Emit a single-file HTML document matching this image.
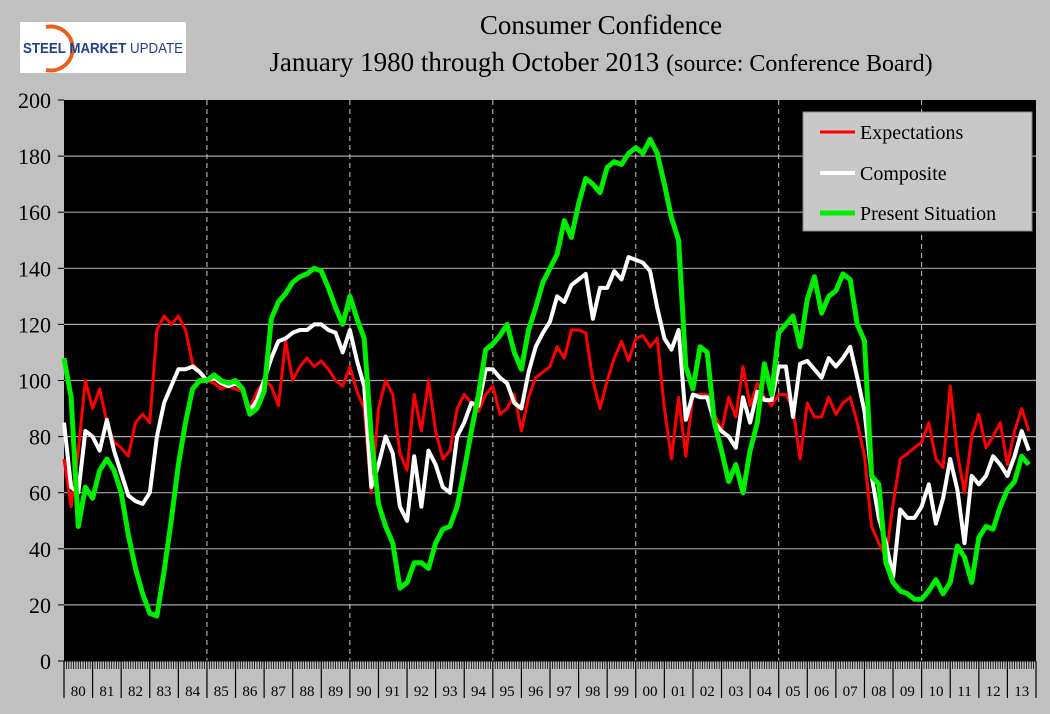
<!DOCTYPE html>
<html><head><meta charset="utf-8">
<style>
body{margin:0;background:#c0c0c0;}
#wrap{position:relative;width:1050px;height:714px;background:#c0c0c0;overflow:hidden;font-family:"Liberation Serif",serif;}
svg text{font-family:"Liberation Serif",serif;}
</style></head>
<body>
<div id="wrap">
<svg id="chart" width="1050" height="714" xmlns="http://www.w3.org/2000/svg">
  <g>
    <rect x="20" y="22" width="166" height="51" fill="#fff"/>
    <path d="M46,27 A22,22 0 1 1 46,70" fill="none" stroke="#e8601c" stroke-width="4"/>
    <text x="23" y="53" font-size="14.5" font-weight="bold" fill="#1f3f8f" style="font-family:'Liberation Sans',sans-serif" textLength="160" lengthAdjust="spacingAndGlyphs">STEEL MARKET <tspan font-weight="normal">UPDATE</tspan></text>
  </g>
  <text x="601" y="34" text-anchor="middle" font-size="27" fill="#000">Consumer Confidence</text>
  <text x="601" y="71" text-anchor="middle" font-size="27" fill="#000">January 1980 through October 2013 <tspan font-size="24">(source: Conference Board)</tspan></text>
  <rect x="64" y="100" width="972" height="561" fill="#000"/>
  <g id="grid"></g>
  <g id="axes"></g>
  <g id="series"></g>
  <g>
    <rect x="803" y="112" width="229" height="119" fill="#c8c8c8" stroke="#888"/>
    <line x1="820" y1="132" x2="855" y2="132" stroke="#ff0000" stroke-width="3"/>
    <text x="860" y="139" font-size="20">Expectations</text>
    <line x1="820" y1="173" x2="855" y2="173" stroke="#ffffff" stroke-width="4"/>
    <text x="860" y="180" font-size="20">Composite</text>
    <line x1="820" y1="213" x2="855" y2="213" stroke="#00ee00" stroke-width="5"/>
    <text x="860" y="220" font-size="20">Present Situation</text>
  </g>
</svg>
</div>
<script>
const startYear = 1980;
const yearLabels = ["80","81","82","83","84","85","86","87","88","89","90","91","92","93","94","95","96","97","98","99","00","01","02","03","04","05","06","07","08","09","10","11","12","13"];
const yTicks = [0,20,40,60,80,100,120,140,160,180,200];
// quarterly values, Jan 1980 .. Oct 2013
const expectations = [72,55,75,100, 90,97,85,78, 76,73,85,88, 85,118,123,120, 123,118,106,103, 100,99,97,98, 97,96,90,96, 100,98,91,114, 100,105,108,105, 107,104,100,98,
105,96,90,60, 90,100,95,74, 68,95,82,100, 82,72,75,90, 95,92,89,95, 98,88,90,95, 82,94,101,103, 105,112,108,118, 118,117,100,90, 100,108,114,107,
115,116,112,115, 90,72,94,73, 95,95,95,88, 82,94,87,105, 91,99,94,91, 95,95,90,72, 92,87,87,94, 88,92,94,85, 73,48,42,37, 56,72,74,76,
78,85,72,69, 98,74,60,80, 88,76,80,85, 70,82,90,82];
const composite = [85,62,60,82, 80,75,86,75, 67,59,57,56, 60,80,92,98, 104,104,105,103, 100,101,99,98, 99,97,89,93, 100,108,114,115, 117,118,118,120, 120,118,117,110,
118,107,98,62, 70,80,74,55, 50,73,55,75, 70,62,60,80, 85,92,91,104, 104,101,99,92, 90,103,112,117, 121,130,128,134, 136,138,122,133, 133,139,136,144,
143,142,139,126, 115,111,118,86, 95,94,94,85, 82,80,76,94, 85,96,93,93, 105,105,87,106, 107,104,101,108, 105,108,112,101, 89,66,51,42, 30,54,51,51,
55,63,49,58, 72,61,42,66, 63,66,73,70, 66,73,82,75];
const present = [108,94,48,62, 58,68,72,68, 60,45,33,24, 17,16,32,50, 70,85,97,100, 100,102,100,99, 100,97,88,90, 96,122,128,131, 135,137,138,140, 139,133,126,120,
130,122,115,80, 56,48,42,26, 28,35,35,33, 42,47,48,55, 68,82,95,111, 113,116,120,110, 104,118,126,135, 140,145,157,151, 163,172,170,167, 176,178,177,181,
183,181,186,181, 170,158,150,105, 97,112,110,85, 75,64,70,60, 75,85,106,95, 117,120,123,112, 129,137,124,130, 132,138,136,120, 114,66,63,35, 28,25,24,22,
22,25,29,24, 28,41,37,28, 44,48,47,55, 61,64,73,70];

const X0=64, X1=1036, Y0=661, Y1=100, YEARS=34;
const xs = t => X0 + (t - startYear) / YEARS * (X1 - X0);
const ys = v => Y0 - v / 200 * (Y0 - Y1);
const NS="http://www.w3.org/2000/svg";
function mk(tag, attrs, parent){const e=document.createElementNS(NS,tag);for(const k in attrs)e.setAttribute(k,attrs[k]);parent.appendChild(e);return e;}
const grid=document.getElementById('grid'), axes=document.getElementById('axes'), ser=document.getElementById('series');

yTicks.forEach(v=>{
  if(v>0 && v<200){
    const l=mk('line',{x1:X0,x2:X1,y1:ys(v),y2:ys(v),stroke:'#a6a6a6','stroke-width':1.2},grid);
    
    
  }
  const tk=mk('line',{x1:X0-6,x2:X0,y1:ys(v),y2:ys(v),stroke:'#000','stroke-width':1},axes);
  
  
  const t=mk('text',{x:X0-13,y:ys(v)+8,'text-anchor':'end','font-size':22},axes);
  t.textContent=v;
  
  
});
for(let y=1985;y<2014;y+=5){
  const l=mk('line',{x1:xs(y),x2:xs(y),y1:Y1,y2:Y0,stroke:'#c8c8c8','stroke-width':1,'stroke-dasharray':'5,4'},grid);
  
  
}
const ax=mk('line',{x1:X0,x2:X1,y1:Y0,y2:Y0,stroke:'#000','stroke-width':1},axes);


for(let m=0;m<=YEARS*12;m++){
  const x=xs(startYear+m/12);
  const major=m%12===0;
  const l=mk('line',{x1:x,x2:x,y1:Y0,y2:major?698:669,stroke:'#000','stroke-width':major?1.2:0.8},axes);
  
  
}
yearLabels.forEach((lab,i)=>{
  const t=mk('text',{x:xs(startYear+i+0.5),y:696,'text-anchor':'middle','font-size':15},axes);
  t.textContent=lab;
  
  
});
function drawSeries(vals,color,w,name){
  const pts=vals.map((v,i)=>xs(startYear+i/4).toFixed(1)+','+ys(v).toFixed(1)).join(' ');
  const p=mk('polyline',{points:pts,fill:'none',stroke:color,'stroke-width':w,'stroke-linejoin':'round'},ser);
  
  
}
drawSeries(expectations,'#ff0000',3,'expectations-line');
drawSeries(composite,'#ffffff',4,'composite-line');
drawSeries(present,'#00ee00',5,'present-situation-line');
</script>
</body></html>
